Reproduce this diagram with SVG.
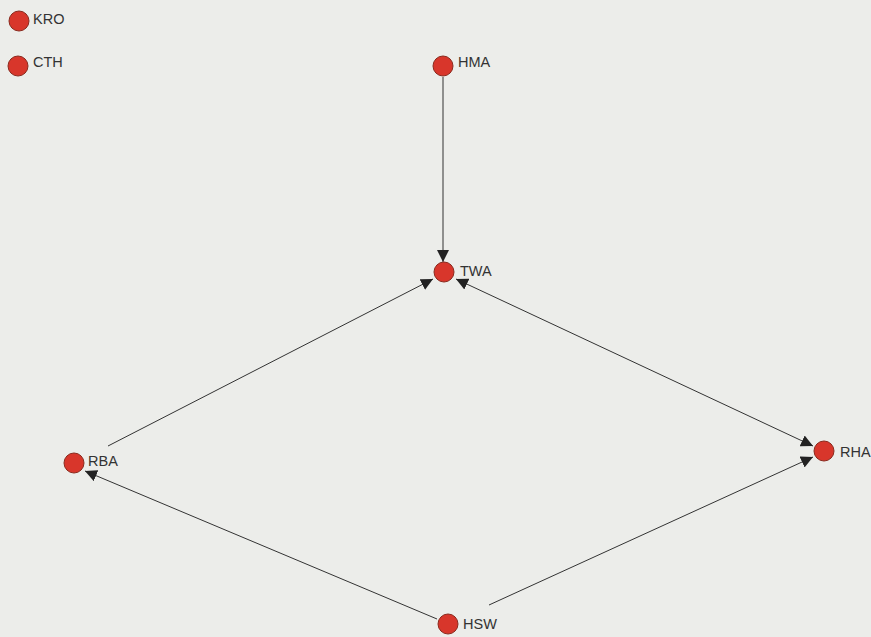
<svg xmlns="http://www.w3.org/2000/svg" width="871" height="637" viewBox="0 0 871 637">
<style>
.bg{fill:#ecedea}
.n{fill:#d8362b;stroke:#8a2a1e;stroke-width:1}
.t{font-family:"Liberation Sans",Arial,sans-serif;font-size:14.5px;fill:#333}
.e{stroke:#333;stroke-width:1;fill:none}
</style>
<defs>
<marker id="ah" viewBox="0 0 10 10" refX="10" refY="5" markerWidth="12" markerHeight="12" markerUnits="userSpaceOnUse" orient="auto">
<path d="M0,0 L10,5 L0,10 z" fill="#222"/>
</marker>
<marker id="as" viewBox="0 0 10 10" refX="10" refY="5" markerWidth="12" markerHeight="12" markerUnits="userSpaceOnUse" orient="auto-start-reverse">
<path d="M0,0 L10,5 L0,10 z" fill="#222"/>
</marker>
</defs>
<rect class="bg" x="0" y="0" width="871" height="637"/>
<g id="connectors">
<line class="e" x1="443" y1="77" x2="443" y2="262" marker-end="url(#ah)"/>
<line class="e" x1="108" y1="446" x2="433" y2="279" marker-end="url(#ah)"/>
<line class="e" x1="456" y1="279" x2="813" y2="446" marker-start="url(#as)" marker-end="url(#ah)"/>
<line class="e" x1="437" y1="619" x2="85" y2="471" marker-end="url(#ah)"/>
<line class="e" x1="489" y1="605" x2="813" y2="457" marker-end="url(#ah)"/>
</g>
<g id="KRO"><circle class="n" cx="19" cy="21" r="10"/><text class="t" x="33" y="24">KRO</text></g>
<g id="CTH"><circle class="n" cx="18" cy="66" r="10"/><text class="t" x="33" y="67">CTH</text></g>
<g id="HMA"><circle class="n" cx="443" cy="66" r="10"/><text class="t" x="458" y="67">HMA</text></g>
<g id="TWA"><circle class="n" cx="444" cy="272" r="10"/><text class="t" x="460" y="276">TWA</text></g>
<g id="RBA"><circle class="n" cx="74" cy="463" r="10"/><text class="t" x="88" y="466">RBA</text></g>
<g id="RHA"><circle class="n" cx="824" cy="451" r="10"/><text class="t" x="840" y="457">RHA</text></g>
<g id="HSW"><circle class="n" cx="448" cy="624" r="10"/><text class="t" x="463" y="629">HSW</text></g>
</svg>
